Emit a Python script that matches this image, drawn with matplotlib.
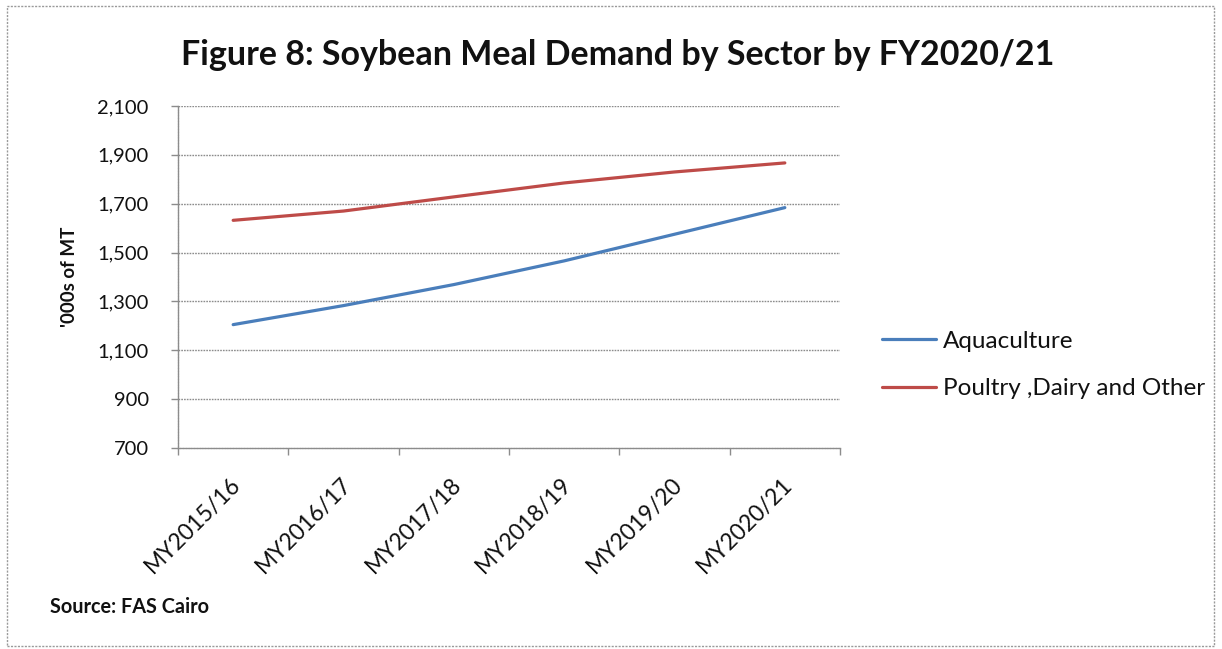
import matplotlib
matplotlib.use("Agg")
import matplotlib.pyplot as plt
import matplotlib.transforms as mtransforms
from matplotlib.patches import Rectangle
from matplotlib.ticker import FuncFormatter, FixedLocator

# Soybean meal demand by sector ('000 MT)
years = ["MY2015/16", "MY2016/17", "MY2017/18", "MY2018/19", "MY2019/20", "MY2020/21"]
aquaculture = [1205, 1283, 1369, 1466, 1575, 1684]
poultry_dairy_other = [1632, 1670, 1728, 1785, 1830, 1867]
series_names = ["Aquaculture", "Poultry ,Dairy and Other"]
y_ticks = [700, 900, 1100, 1300, 1500, 1700, 1900, 2100]

FONT = "Lato"
plt.rcParams["font.family"] = [FONT, "DejaVu Sans"]

W, H = 1222, 649
fig = plt.figure(figsize=(W / 100, H / 100), dpi=100)
fig.patch.set_facecolor("white")

# outer dashed chart frame
fig.patches.append(Rectangle((7 / W, 3 / H), (1214 - 7) / W, (643 - 3) / H,
                             transform=fig.transFigure, fill=False,
                             edgecolor="#9a9a9a", linewidth=1.0,
                             linestyle=(0, (1.5, 1.0))))

left, right, top, bottom = 178, 840, 106, 448
ax = fig.add_axes([left / W, 1 - bottom / H, (right - left) / W, (bottom - top) / H])

x = list(range(len(years)))
ax.plot(x, aquaculture, color="#4A7EBB", linewidth=2.3, label=series_names[0],
        solid_capstyle="round")
ax.plot(x, poultry_dairy_other, color="#BE4B48", linewidth=2.3, label=series_names[1],
        solid_capstyle="round")

ax.set_xlim(-0.5, len(years) - 0.5)
ax.set_ylim(y_ticks[0], y_ticks[-1])

grid_ls = (0, (1.2, 0.8))
ax.set_yticks(y_ticks)
ax.yaxis.set_major_formatter(FuncFormatter(lambda v, p: f"{int(v):,}"))
for v in y_ticks[1:]:
    ax.axhline(v, color="#8c8c8c", linewidth=1.0, linestyle=grid_ls, zorder=0)

# category labels centred, tick marks on category boundaries
ax.set_xticks(x)
ax.set_xticklabels(years, rotation=45, ha="right", rotation_mode="anchor",
                   fontsize=16.5, color="#111111")
ax.tick_params(axis="x", which="major", length=0, pad=9)
shift = mtransforms.ScaledTranslation(-3 / 100, -13 / 100, fig.dpi_scale_trans)
for lbl in ax.get_xticklabels():
    lbl.set_transform(lbl.get_transform() + shift)
ax.xaxis.set_minor_locator(FixedLocator([i - 0.5 for i in range(len(years) + 1)]))
ax.tick_params(axis="x", which="minor", length=5, width=1.0, color="#8c8c8c",
               direction="out")
ax.tick_params(axis="y", length=5, width=1.0, color="#8c8c8c", direction="out",
               labelsize=14.5, labelcolor="#111111", pad=16)

for side in ("top", "right"):
    ax.spines[side].set_visible(False)
for side in ("left", "bottom"):
    ax.spines[side].set_color("#8c8c8c")
    ax.spines[side].set_linewidth(1.0)
    ax.spines[side].set_linestyle(grid_ls)

ax.set_ylabel("'000s of MT", fontsize=13.5, fontweight="bold", labelpad=14,
              color="#111111")

fig.text(618 / W, 1 - 55 / H, "Figure 8: Soybean Meal Demand by Sector by FY2020/21",
         ha="center", va="center", fontsize=24.5, fontweight="bold", color="#111111")

fig.text(50 / W, 1 - 607 / H, "Source: FAS Cairo", ha="left", va="center",
         fontsize=14.3, fontweight="bold", color="#111111")

leg = fig.legend(loc="center left", bbox_to_anchor=(872 / W, 1 - 365 / H),
                 frameon=False, fontsize=17.5, handlelength=2.25, handletextpad=0.28,
                 labelspacing=1.1, borderaxespad=0)
for t in leg.get_texts():
    t.set_color("#111111")

fig.savefig("out.png", dpi=100, facecolor="white")
